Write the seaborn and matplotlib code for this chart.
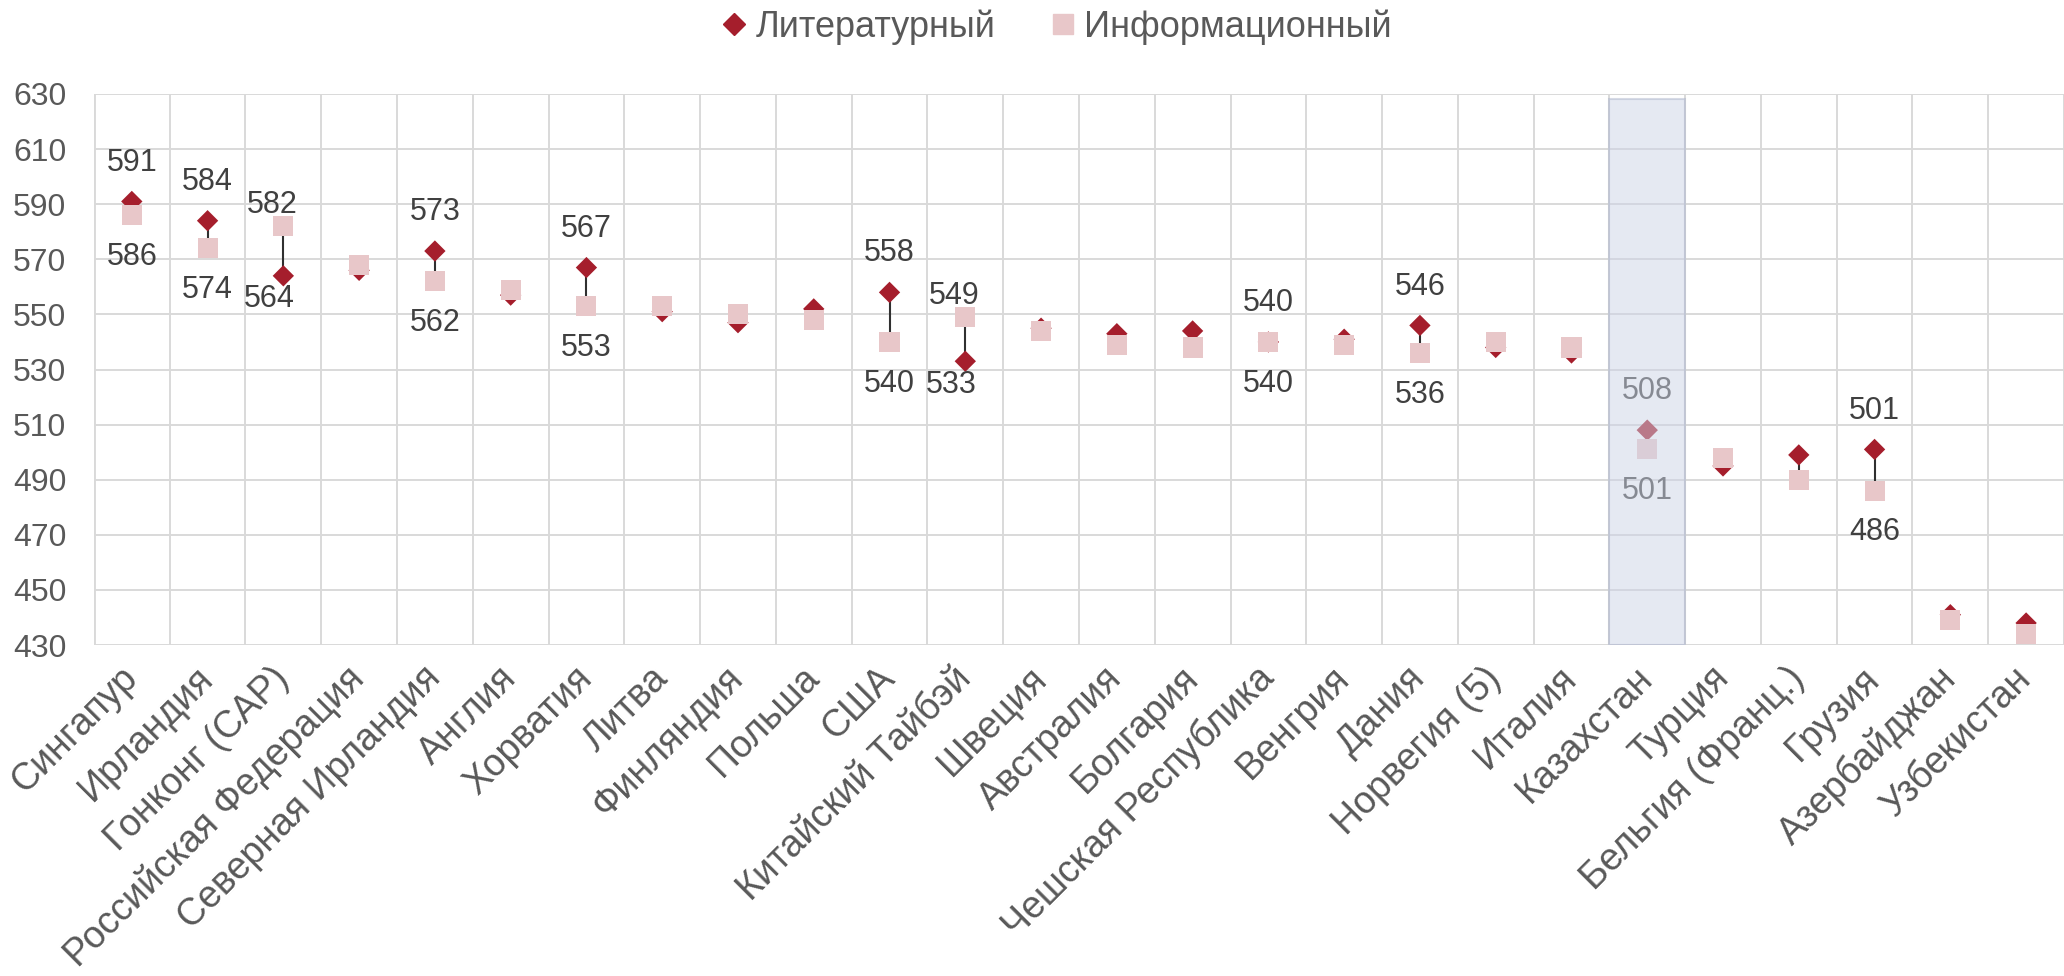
import matplotlib
matplotlib.use('Agg')
import matplotlib.pyplot as plt
from matplotlib.lines import Line2D
import numpy as np
import pandas as pd
import seaborn as sns


countries = [
    'Сингапур', 'Ирландия', 'Гонконг (САР)', 'Российская Федерация',
    'Северная Ирландия', 'Англия', 'Хорватия', 'Литва', 'Финляндия',
    'Польша', 'США', 'Китайский Тайбэй', 'Швеция', 'Австралия', 'Болгария',
    'Чешская Республика', 'Венгрия', 'Дания', 'Норвегия (5)', 'Италия',
    'Казахстан', 'Турция', 'Бельгия (Франц.)', 'Грузия', 'Азербайджан',
    'Узбекистан',
]
literary = [591, 584, 564, 566, 573, 557, 567, 551, 547, 552, 558, 533, 545,
            543, 544, 540, 541, 546, 538, 536, 508, 495, 499, 501, 441, 438]
informational = [586, 574, 582, 568, 562, 559, 553, 553, 550, 548, 540, 549,
                 544, 539, 538, 540, 539, 536, 540, 538, 501, 498, 490, 486,
                 439, 434]
labeled = ['Сингапур', 'Ирландия', 'Гонконг (САР)', 'Северная Ирландия',
           'Хорватия', 'США', 'Китайский Тайбэй', 'Чешская Республика',
           'Дания', 'Казахстан', 'Грузия']
highlight = 'Казахстан'
y_ticks = list(range(430, 631, 20))

LIT_COLOR = '#A51E2C'
INF_COLOR = '#E8C7C9'
GRID = '#D9D9D9'
TEXT = '#595959'
LABEL = '#404040'

df = pd.DataFrame({'country': countries, 'lit': literary, 'inf': informational})
n = len(df)

sns.set_theme(style='white')
plt.rcParams['font.family'] = ['Liberation Sans', 'DejaVu Sans']

fig = plt.figure(figsize=(20.64, 9.76), dpi=100)
ax = fig.add_axes([0.0455, 0.3391, 0.9545, 0.5646])

# high-low lines
ax.vlines(np.arange(n), df[['lit', 'inf']].min(axis=1), df[['lit', 'inf']].max(axis=1),
          color='#303030', lw=1.5, zorder=2)

sns.scatterplot(data=df, x='country', y='lit', marker='D', s=118, color=LIT_COLOR,
                edgecolor='none', ax=ax, zorder=3)
sns.scatterplot(data=df, x='country', y='inf', marker='s', s=210, color=INF_COLOR,
                edgecolor='none', ax=ax, zorder=4)

# data labels
for i, row in df.iterrows():
    if row['country'] not in labeled:
        continue
    if row['lit'] >= row['inf']:
        pairs = [(row['lit'], 28, 0), (row['inf'], -30, 0)]
    else:
        pairs = [(row['lit'], -17, -10), (row['inf'], 15, -8)]
    for val, dy, dx in pairs:
        ax.annotate(f'{val:d}', (i, val), xytext=(dx, dy), textcoords='offset points',
                    ha='center', va='center', fontsize=22, color=LABEL, zorder=5)

# highlight band
hi = countries.index(highlight)
ax.axvspan(hi - 0.5, hi + 0.5, ymin=0, ymax=0.99, facecolor='#CDD4E6', alpha=0.5,
           edgecolor='#AEB6CC', lw=1.5, zorder=10)

ax.set_xlim(-0.5, 25.24)
ax.set_ylim(430, 630)
ax.set_yticks(y_ticks)
ax.set_xticks(np.arange(n))
ax.set_xticklabels(countries, rotation=45, ha='right', va='center',
                   rotation_mode='anchor', fontsize=27, color=TEXT)
ax.set_xticks(np.arange(n) + 0.5, minor=True)
ax.tick_params(axis='y', labelsize=23, colors=TEXT, length=0, pad=20)
ax.tick_params(axis='x', which='both', length=0, pad=20)
ax.grid(axis='y', which='major', color=GRID, lw=1.4)
ax.grid(axis='x', which='minor', color=GRID, lw=1.4)
ax.grid(axis='x', which='major', visible=False)
ax.axvline(-0.5, color=GRID, lw=2.8, zorder=0)
for s in ax.spines.values():
    s.set_visible(False)
ax.set_xlabel('')
ax.set_ylabel('')

handles = [
    Line2D([], [], marker='D', ls='', color=LIT_COLOR, markersize=11),
    Line2D([], [], marker='s', ls='', color=INF_COLOR, markersize=14),
]
fig.legend(handles, ['Литературный', 'Информационный'], loc='center',
           bbox_to_anchor=(0.512, 0.972), ncol=2, frameon=False, fontsize=26,
           labelcolor=TEXT, handlelength=0.7, handletextpad=0.25, columnspacing=1.5)

fig.savefig('out.png', dpi=100)
